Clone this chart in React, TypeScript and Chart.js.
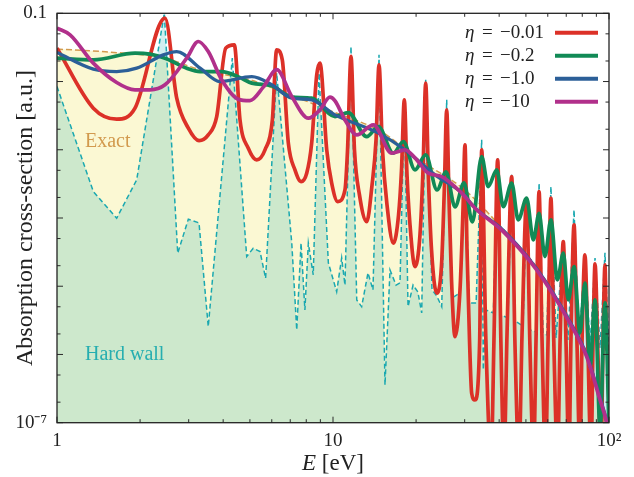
import React, { useEffect, useRef } from 'react';
import { Chart, registerables } from 'chart.js';

Chart.register(...registerables);

// ---- Data (E in eV, absorption cross-section in a.u.) ----
const exactCurve: [number, number][] = [
  [1.0, 2.99e-2], [1.5, 2.73e-2], [2.46, 2.19e-2], [3.3, 1.49e-2], [5.0, 1.06e-2],
  [7.0, 6.38e-3], [10.0, 3.6e-3], [15.0, 1.83e-3], [20.0, 7.6e-4], [30.0, 2.58e-4],
  [40.0, 7.93e-5], [55.0, 1.85e-5], [70.0, 3.8e-6], [85.0, 8.3e-7], [100, 6e-8],
];

const hardWall: [number, number][] = [
  [1.0, 8.45e-3], [1.354, 2.44e-4], [1.645, 9.93e-5], [1.944, 3.62e-4], [2.448, 1.0e-1],
  [2.738, 3.05e-5], [2.991, 9.6e-5], [3.27, 8.47e-5], [3.532, 2.56e-6], [4.316, 2.2e-2],
  [4.868, 2.72e-5], [5.14, 3.6e-5], [5.44, 3.22e-5], [5.7, 1.31e-5], [6.25, 1.33e-2],
  [7.09, 4.27e-5], [7.39, 2.29e-6], [7.66, 4.3e-5], [7.91, 4.49e-6], [8.14, 4.3e-5],
  [8.48, 1.47e-5], [8.9, 1.33e-2], [9.62, 2.2e-5], [10.31, 8.34e-6], [10.75, 2.6e-5],
  [11.05, 1.04e-5], [11.62, 3.26e-2], [12.19, 6.3e-6], [12.7, 5.02e-6], [13.39, 1.57e-5],
  [13.96, 8.83e-6], [14.68, 2.46e-2], [15.43, 3.57e-7], [16.09, 1.73e-5], [16.92, 1.04e-5],
  [17.49, 1.12e-5], [18.13, 5.0e-3], [18.7, 5.02e-6], [19.5, 1.04e-5], [20.3, 8.25e-6],
  [20.96, 4.06e-6], [21.67, 1.06e-2], [22.84, 8.83e-6], [23.76, 7.21e-6], [24.77, 5.02e-6],
  [25.82, 5.39e-3], [26.99, 6.74e-6], [28.85, 7.97e-6], [30.07, 1.1e-3], [31.1, 5.69e-6],
  [33.0, 5.69e-6], [34.57, 1.4e-3], [35.04, 5.93e-7], [35.8, 4.49e-6], [38.1, 4.06e-6],
  [39.5, 7.87e-4], [40.6, 3.8e-6], [43.05, 3.43e-6], [44.4, 4.29e-4], [45.6, 3.1e-6],
  [48.8, 2.62e-6], [50.3, 1.97e-4], [51.7, 2.29e-6], [54.4, 2.14e-6], [55.8, 3.27e-4],
  [57.7, 2.07e-6], [59.5, 1.93e-6], [61.6, 2.89e-4], [64.3, 1.75e-6], [68.3, 4.78e-5],
  [71.0, 1.63e-6], [74.7, 1.32e-4], [77.9, 1.52e-6], [81.8, 2.88e-5], [85.4, 1.38e-6],
  [89.0, 2.6e-5], [92.8, 1.25e-6], [96.7, 3.08e-5], [100, 1.16e-6],
];

const etaM001: [number, number][] = [
  [1.0, 3.09e-2], [1.354, 4.07e-3], [1.645, 2.81e-3], [1.917, 4.07e-3], [2.462, 8.5e-2],
  [2.715, 5.71e-3], [2.991, 2.07e-3], [3.27, 1.36e-3], [3.532, 1.65e-3], [3.79, 3.07e-3],
  [4.087, 3.09e-2], [4.39, 3.45e-2], [4.603, 2.74e-3], [4.933, 1.05e-3], [5.29, 7.11e-4],
  [5.67, 9.97e-4], [6.03, 2.74e-3], [6.25, 2.92e-2], [6.55, 2.08e-2], [6.89, 1.25e-3],
  [7.28, 5.07e-4], [7.66, 3.42e-4], [8.03, 4.54e-4], [8.37, 1.25e-3], [8.73, 1.25e-2],
  [8.97, 1.86e-2], [9.49, 9.97e-4], [9.89, 3.24e-4], [10.4, 1.74e-4], [11.05, 2.58e-4],
  [11.29, 9.97e-4], [11.62, 2.33e-2], [11.96, 9.97e-4], [12.47, 2.18e-4], [13.25, 8.85e-5],
  [13.85, 3.05e-4], [14.32, 1.4e-3], [14.68, 1.76e-2], [15.11, 9.97e-4], [15.69, 1.56e-4],
  [16.54, 4.27e-5], [17.28, 1.11e-4], [17.71, 5.07e-4], [18.13, 5.39e-3], [18.54, 4.29e-4],
  [19.01, 7.93e-5], [19.82, 1.94e-5], [20.66, 5.65e-5], [21.19, 5.07e-4], [21.67, 9.48e-3],
  [22.18, 3.62e-4], [22.75, 3.4e-5], [23.76, 7.89e-6], [24.73, 2.05e-5], [25.31, 2.58e-4],
  [25.82, 3.85e-3], [26.33, 1.84e-4], [26.88, 1.24e-5], [27.67, 1.82e-6], [28.85, 8.83e-6],
  [29.58, 1.32e-4], [30.07, 1.18e-3], [30.59, 3.4e-5], [31.23, 1.63e-6], [31.8, 2.7e-7],
  [32.7, 2.15e-7], [34.0, 1.63e-6], [34.57, 9.97e-4], [35.8, 1.63e-6], [37.4, 3e-8],
  [38.3, 1.63e-6], [39.5, 7.11e-4], [40.6, 1.38e-6], [41.65, 3e-8], [42.7, 1.93e-6],
  [44.4, 4.05e-4], [45.6, 1.63e-6], [47.2, 3e-8], [48.4, 1.93e-6], [50.3, 1.84e-4],
  [51.7, 1.38e-6], [53.3, 3e-8], [54.4, 1.63e-6], [55.8, 2.44e-4], [57.2, 1.63e-6],
  [58.9, 3e-8], [60.1, 1.38e-6], [61.6, 1.95e-4], [63.2, 1.16e-6], [65.1, 3e-8],
  [66.5, 1.63e-6], [68.3, 4.5e-5], [69.9, 1.38e-6], [71.6, 3e-8], [72.8, 1.63e-6],
  [74.7, 7.93e-5], [76.6, 1.38e-6], [78.5, 3e-8], [79.8, 1.38e-6], [81.8, 2.88e-5],
  [83.9, 1.16e-6], [86.1, 3e-8], [87.5, 1.38e-6], [89.0, 2.12e-5], [91.2, 9.84e-7],
  [93.5, 3e-8], [95.1, 1.38e-6], [96.7, 2.05e-5], [98.2, 1.16e-6], [100, 1.38e-6],
];

const etaM02: [number, number][] = [
  [1.0, 2.2e-2], [1.354, 2.08e-2], [1.917, 2.61e-2], [2.173, 2.52e-2], [2.462, 2.2e-2],
  [2.951, 1.57e-2], [3.3, 1.4e-2], [3.95, 1.4e-2], [4.53, 1.18e-2], [5.08, 9.48e-3],
  [6.0, 8.65e-3], [7.09, 5.9e-3], [8.37, 5.71e-3], [10.17, 3.07e-3], [11.36, 3.51e-3],
  [13.25, 1.56e-3], [14.59, 2.19e-3], [16.54, 8.91e-4], [17.98, 1.32e-3], [19.82, 5.07e-4],
  [21.67, 8.41e-4], [23.82, 2.58e-4], [25.67, 4.74e-4], [27.67, 1.46e-4], [29.83, 3.27e-4],
  [32.0, 8.77e-5], [34.57, 7.95e-4], [36.5, 2.89e-4], [39.2, 5.07e-4], [41.4, 1.47e-4],
  [44.4, 3.24e-4], [46.9, 9.38e-5], [50.3, 1.95e-4], [53.2, 4.78e-5], [55.8, 1.17e-4],
  [58.6, 2.72e-5], [61.6, 9.38e-5], [65.0, 1.24e-5], [68.3, 3.05e-5], [71.2, 6.3e-6],
  [74.7, 1.94e-5], [78.5, 2.07e-6], [81.8, 1.11e-5], [85.4, 6.56e-7], [89.0, 6.3e-6],
  [92.8, 8e-8], [96.7, 5.69e-6], [100, 8e-8],
];

const etaM1: [number, number][] = [
  [1.0, 2.66e-2], [1.354, 1.52e-2], [1.645, 1.4e-2], [1.944, 1.57e-2], [2.427, 2.46e-2],
  [2.715, 2.75e-2], [3.3, 1.57e-2], [3.896, 1.0e-2], [5.08, 1.18e-2], [6.0, 8.95e-3],
  [7.09, 5.71e-3], [8.37, 5.39e-3], [10.17, 3.25e-3], [14.56, 1.77e-3], [18.24, 9.97e-4],
  [23.42, 4.29e-4], [29.34, 2.33e-4], [32.7, 1.41e-4], [41.4, 6.6e-5], [54.7, 1.8e-5],
  [72.2, 3.0e-6], [83.0, 9.8e-7], [92.8, 2.3e-7], [98.1, 1.05e-7], [100, 7e-8],
];

const etaM10: [number, number][] = [
  [1.0, 6.07e-2], [1.115, 4.84e-2], [1.354, 1.86e-2], [1.645, 9.67e-3], [1.917, 7.55e-3],
  [2.173, 7.55e-3], [2.462, 8.95e-3], [2.951, 2.2e-2], [3.25, 3.86e-2], [3.532, 2.75e-2],
  [3.95, 1.06e-2], [4.53, 5.52e-3], [5.0, 5.26e-3], [5.59, 8.28e-3], [6.25, 1.49e-2],
  [7.09, 6.03e-3], [8.14, 2.9e-3], [8.97, 3.85e-3], [9.75, 5.9e-3], [10.17, 5.2e-3],
  [11.05, 2.74e-3], [12.19, 1.65e-3], [14.0, 2.32e-3], [16.32, 8.91e-4], [18.24, 9.97e-4],
  [19.82, 7.6e-4], [22.09, 4.58e-4], [24.77, 4.05e-4], [29.27, 2.31e-4], [32.7, 1.39e-4],
  [41.4, 6.32e-5], [54.7, 1.73e-5], [72.2, 2.87e-6], [83.0, 9.29e-7], [92.8, 2.15e-7],
  [98.1, 9.9e-8], [100, 6e-8],
];

const legendValues = ['\u22120.01', '\u22120.2', '\u22121.0', '\u221210'];

// ---- Axis ticks ----
const xLabelTicks = [1, 10, 100];
const xLabelText = ['1', '10', '10\u00B2'];
const xTickValues = [1, 2, 3, 4, 5, 6, 7, 8, 9, 10, 20, 30, 40, 50, 60, 70, 80, 90, 100];
const xMajorTicks = [1, 10, 100];
const yLabelTicks = [1e-7, 0.1];
const yLabelText = ['10\u207B\u2077', '0.1'];
const yTickValues = [
  1e-7, 2e-7, 5e-7, 1e-6, 2e-6, 5e-6, 1e-5, 2e-5, 5e-5, 1e-4, 2e-4, 5e-4,
  1e-3, 2e-3, 5e-3, 1e-2, 2e-2, 5e-2, 1e-1,
];
const yMajorTicks = [1e-7, 1e-6, 1e-5, 1e-4, 1e-3, 1e-2, 1e-1];

const SERIF = '"Liberation Serif", "Times New Roman", serif';

const toXY = (pts: [number, number][]) => pts.map(([x, y]) => ({ x, y }));
const isMajor = (v: number, list: number[]) => list.some((m) => Math.abs(Math.log10(v) - Math.log10(m)) < 1e-6);

const decorPlugin = {
  id: 'decor',
  afterDatasetsDraw(chart: any) {
    const { ctx, chartArea: a, scales } = chart;
    const xs = scales.x;
    const ys = scales.y;
    ctx.save();

    // inward ticks on all four sides
    ctx.strokeStyle = '#2a2a2a';
    ctx.lineWidth = 1;
    ctx.beginPath();
    for (const v of xTickValues) {
      const px = xs.getPixelForValue(v);
      const len = isMajor(v, xMajorTicks) ? 6 : 3.5;
      ctx.moveTo(px, a.bottom);
      ctx.lineTo(px, a.bottom - len);
      ctx.moveTo(px, a.top);
      ctx.lineTo(px, a.top + len);
    }
    for (const v of yTickValues) {
      const py = ys.getPixelForValue(v);
      const len = isMajor(v, yMajorTicks) ? 6 : 3.5;
      ctx.moveTo(a.left, py);
      ctx.lineTo(a.left + len, py);
      ctx.moveTo(a.right, py);
      ctx.lineTo(a.right - len, py);
    }
    ctx.stroke();

    // frame
    ctx.strokeStyle = '#222';
    ctx.lineWidth = 1.3;
    ctx.strokeRect(a.left, a.top, a.right - a.left, a.bottom - a.top);

    // annotations
    ctx.textBaseline = 'middle';
    ctx.textAlign = 'left';
    ctx.font = `20px ${SERIF}`;
    ctx.fillStyle = '#d29a4e';
    ctx.fillText('Exact', xs.getPixelForValue(1.263), ys.getPixelForValue(1.3e-3));
    ctx.fillStyle = '#26aeb0';
    ctx.fillText('Hard wall', xs.getPixelForValue(1.263), ys.getPixelForValue(9.8e-7));

    // legend (text first, line sample on the right)
    const ds = chart.data.datasets;
    const lx = a.right - 144;
    for (let i = 0; i < legendValues.length; i++) {
      const d = ds[i + 2];
      const cy = a.top + 19.5 + i * 23;
      ctx.fillStyle = '#222';
      ctx.font = `italic 19px ${SERIF}`;
      ctx.fillText('\u03B7', lx, cy);
      ctx.font = `19px ${SERIF}`;
      ctx.fillText('=', lx + 17, cy);
      ctx.fillText(legendValues[i], lx + 35, cy);
      ctx.strokeStyle = d.borderColor;
      ctx.lineWidth = 4;
      ctx.beginPath();
      ctx.moveTo(a.right - 54, cy);
      ctx.lineTo(a.right - 11, cy);
      ctx.stroke();
    }

    // axis titles
    ctx.fillStyle = '#222';
    ctx.save();
    ctx.translate(26, (a.top + a.bottom) / 2);
    ctx.rotate(-Math.PI / 2);
    ctx.textAlign = 'center';
    ctx.font = `24px ${SERIF}`;
    ctx.fillText('Absorption cross-section [a.u.]', 0, 0);
    ctx.restore();

    ctx.font = `italic 23px ${SERIF}`;
    const wE = ctx.measureText('E').width;
    ctx.font = `23px ${SERIF}`;
    const rest = ' [eV]';
    const wR = ctx.measureText(rest).width;
    const x0 = (a.left + a.right) / 2 - (wE + wR) / 2;
    ctx.textAlign = 'left';
    ctx.font = `italic 23px ${SERIF}`;
    ctx.fillText('E', x0, 464);
    ctx.font = `23px ${SERIF}`;
    ctx.fillText(rest, x0 + wE, 464);

    ctx.restore();
  },
};

export default function App() {
  const ref = useRef<HTMLCanvasElement | null>(null);

  useEffect(() => {
    const canvas = ref.current;
    if (!canvas) return;
    const common = { pointRadius: 0, clip: 0 as any };
    const chart = new Chart(canvas, {
      type: 'line',
      data: {
        datasets: [
          {
            label: 'Exact',
            data: toXY(exactCurve),
            borderColor: '#d29a4e',
            borderWidth: 1.5,
            borderDash: [6, 3],
            backgroundColor: '#fbf8d3',
            fill: 'start',
            cubicInterpolationMode: 'monotone',
            order: 6,
            ...common,
          },
          {
            label: 'Hard wall',
            data: toXY(hardWall),
            borderColor: '#1aa8b0',
            borderWidth: 1.5,
            borderDash: [5, 3],
            backgroundColor: 'rgba(23,170,180,0.2)',
            fill: 'start',
            tension: 0,
            order: 5,
            ...common,
          },
          {
            label: '\u03B7 = \u22120.01',
            data: toXY(etaM001),
            borderColor: '#dc3128',
            borderWidth: 3.7,
            fill: false,
            cubicInterpolationMode: 'monotone',
            order: 4,
            ...common,
          },
          {
            label: '\u03B7 = \u22120.2',
            data: toXY(etaM02),
            borderColor: '#118a56',
            borderWidth: 3.7,
            fill: false,
            cubicInterpolationMode: 'monotone',
            order: 3,
            ...common,
          },
          {
            label: '\u03B7 = \u22121.0',
            data: toXY(etaM1),
            borderColor: '#2c5f98',
            borderWidth: 3.3,
            fill: false,
            cubicInterpolationMode: 'monotone',
            order: 2,
            ...common,
          },
          {
            label: '\u03B7 = \u221210',
            data: toXY(etaM10),
            borderColor: '#b1308b',
            borderWidth: 3.7,
            fill: false,
            cubicInterpolationMode: 'monotone',
            order: 1,
            ...common,
          },
        ],
      } as any,
      options: {
        animation: false,
        responsive: false,
        layout: { padding: { top: 13.3, right: 25, bottom: 0, left: 0 } },
        plugins: { legend: { display: false }, tooltip: { enabled: false } },
        scales: {
          x: {
            type: 'logarithmic',
            min: 1,
            max: 100,
            grid: { display: false, drawTicks: false },
            border: { display: false },
            afterBuildTicks: (s: any) => {
              s.ticks = xLabelTicks.map((v) => ({ value: v }));
            },
            afterFit: (s: any) => {
              s.height = 54.3;
            },
            ticks: {
              autoSkip: false,
              maxRotation: 0,
              padding: 7,
              color: '#222',
              font: { family: SERIF, size: 19 },
              callback: (v: any) => {
                const i = xLabelTicks.indexOf(Number(v));
                return i >= 0 ? xLabelText[i] : '';
              },
            },
          },
          y: {
            type: 'logarithmic',
            min: 1e-7,
            max: 0.1,
            grid: { display: false, drawTicks: false },
            border: { display: false },
            afterBuildTicks: (s: any) => {
              s.ticks = yLabelTicks.map((v) => ({ value: v }));
            },
            afterFit: (s: any) => {
              s.width = 57;
              s.paddingTop = 0;
              s.paddingBottom = 0;
            },
            ticks: {
              autoSkip: false,
              padding: 10,
              color: '#222',
              font: { family: SERIF, size: 19, lineHeight: 0.3 },
              callback: (v: any) => {
                const i = yLabelTicks.findIndex((t) => Math.abs(Math.log10(t) - Math.log10(Number(v))) < 1e-6);
                return i >= 0 ? yLabelText[i] : '';
              },
            },
          },
        },
      } as any,
      plugins: [decorPlugin],
    });
    return () => chart.destroy();
  }, []);

  return (
    <div style={{ position: 'fixed', left: 0, top: 0, width: 634, height: 477, background: '#fff' }}>
      <canvas ref={ref} width={634} height={477} style={{ display: 'block', width: 634, height: 477 }} />
    </div>
  );
}
